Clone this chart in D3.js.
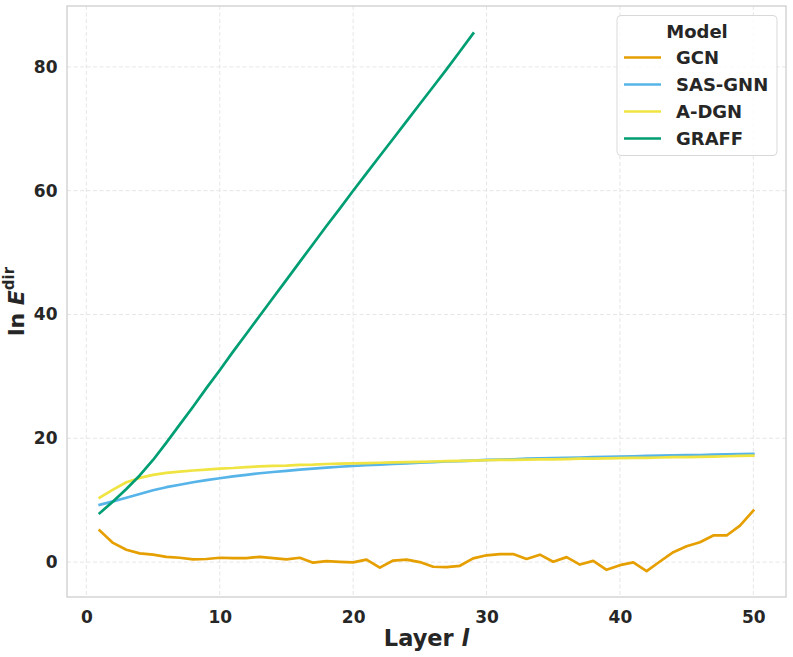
<!DOCTYPE html>
<html><head><meta charset="utf-8">
<script src="https://cdn.jsdelivr.net/npm/d3@7"></script>
<style>body{margin:0;background:#fff;} svg{display:block;font-family:"DejaVu Sans",sans-serif;}</style>
</head><body><svg id="c" width="793" height="657"></svg>
<script>
const layers = d3.range(1, 51);
const gcn = [5.1,3.1,2.0,1.4,1.2,0.85,0.7,0.45,0.5,0.7,0.65,0.65,0.85,0.65,0.45,0.7,-0.1,0.15,0.05,-0.05,0.4,-0.9,0.25,0.4,0.0,-0.75,-0.8,-0.6,0.6,1.1,1.3,1.3,0.5,1.2,0.05,0.8,-0.4,0.2,-1.25,-0.5,-0.05,-1.45,0.1,1.6,2.55,3.2,4.3,4.3,5.9,8.3];
const sasgnn = [9.25,9.8,10.4,11.0,11.6,12.1,12.5,12.9,13.25,13.55,13.85,14.1,14.35,14.55,14.75,14.95,15.1,15.25,15.4,15.55,15.65,15.75,15.85,15.95,16.05,16.15,16.25,16.3,16.4,16.5,16.55,16.6,16.7,16.75,16.8,16.85,16.9,16.95,17.0,17.05,17.1,17.15,17.2,17.25,17.3,17.3,17.35,17.4,17.45,17.5];
const adgn = [10.4,11.7,12.9,13.6,14.1,14.4,14.6,14.8,14.95,15.1,15.2,15.35,15.45,15.55,15.6,15.7,15.75,15.85,15.9,15.95,16.0,16.05,16.1,16.15,16.2,16.25,16.3,16.35,16.4,16.45,16.5,16.5,16.55,16.6,16.6,16.65,16.7,16.7,16.75,16.8,16.85,16.85,16.9,16.95,16.95,17.0,17.05,17.1,17.15,17.2];
const graff = [7.9,9.8,11.8,14.0,16.5,19.3,22.2,25.1,28.1,31.0,34.0,36.9,39.8,42.7,45.6,48.5,51.4,54.3,57.1,60.0,62.8,65.6,68.4,71.2,74.0,76.8,79.6,82.5,85.4];
const seriesNames = ["GCN","SAS-GNN","A-DGN","GRAFF"];
const seriesColors = ["#E69F00","#56B4E9","#F0E442","#009E73"];
const xTicks = [0,10,20,30,40,50];
const yTicks = [0,20,40,60,80];

const series = [gcn, sasgnn, adgn, graff].map((v,i)=>({name:seriesNames[i], color:seriesColors[i], pts:v.map((y,j)=>({x:layers[j], y}))}));

const svg = d3.select("#c");
const L=67, R=786, T=6, B=597;
const x = d3.scaleLinear().domain([-1.45, 52.45]).range([L, R]);
const y = d3.scaleLinear().domain([-5.64, 89.84]).range([B, T]);

// grid
svg.append("g").selectAll("line").data(xTicks).join("line")
  .attr("x1", d=>x(d)).attr("x2", d=>x(d)).attr("y1", T).attr("y2", B)
  .attr("stroke", "#e3e3e3").attr("stroke-width", 0.9).attr("stroke-dasharray", "4,2.5");
svg.append("g").selectAll("line").data(yTicks).join("line")
  .attr("y1", d=>y(d)).attr("y2", d=>y(d)).attr("x1", L).attr("x2", R)
  .attr("stroke", "#e3e3e3").attr("stroke-width", 0.9).attr("stroke-dasharray", "4,2.5");

// frame
svg.append("rect").attr("x", L).attr("y", T).attr("width", R-L).attr("height", B-T)
  .attr("fill", "none").attr("stroke", "#cccccc").attr("stroke-width", 1.25);

// axes
const xAxis = svg.append("g").attr("transform", `translate(0,${B})`)
  .call(d3.axisBottom(x).tickValues(xTicks).tickSize(0).tickPadding(14));
const yAxis = svg.append("g").attr("transform", `translate(${L},0)`)
  .call(d3.axisLeft(y).tickValues(yTicks).tickSize(0).tickPadding(9.5));
[xAxis, yAxis].forEach(a=>{
  a.select(".domain").remove();
  a.selectAll("text").attr("font-family","DejaVu Sans").attr("font-weight","bold").attr("font-size", 17).attr("fill", "#262626");
});

// lines
const line = d3.line().x(d=>x(d.x)).y(d=>y(d.y));
svg.append("g").selectAll("path").data(series).join("path")
  .attr("d", d=>line(d.pts)).attr("fill","none").attr("stroke", d=>d.color)
  .attr("stroke-width", 2.7).attr("stroke-linejoin","round").attr("stroke-linecap","square");

// axis labels
const xl = svg.append("text").attr("x", (L+R)/2).attr("y", 645.5).attr("text-anchor","middle")
  .attr("font-weight","bold").attr("font-size", 22.5).attr("fill","#262626");
xl.append("tspan").text("Layer ");
xl.append("tspan").attr("font-style","italic").text("l");

const yl = svg.append("text").attr("transform", `translate(23.5,${(T+B)/2}) rotate(-90)`)
  .attr("text-anchor","middle").attr("font-weight","bold").attr("font-size", 22).attr("fill","#262626");
yl.append("tspan").text("ln ");
yl.append("tspan").attr("font-style","italic").text("E");
yl.append("tspan").attr("font-size", 15).attr("dy", -10).text("dir");

// legend
const lg = svg.append("g");
lg.append("rect").attr("x", 617).attr("y", 15.5).attr("width", 160).attr("height", 140).attr("rx", 4)
  .attr("fill", "rgba(255,255,255,0.8)").attr("stroke", "#d9d9d9").attr("stroke-width", 1);
lg.append("text").attr("x", 697).attr("y", 38).attr("text-anchor","middle")
  .attr("font-weight","bold").attr("font-size", 18).attr("fill","#262626").text("Model");
const items = lg.selectAll("g.it").data(series).join("g").attr("class","it")
  .attr("transform", (d,i)=>`translate(0,${57.5 + i*27})`);
items.append("line").attr("x1", 624).attr("x2", 661).attr("stroke", d=>d.color).attr("stroke-width", 2.7);
items.append("text").attr("x", 676).attr("y", 6.5).attr("font-weight","bold").attr("font-size", 18)
  .attr("fill","#262626").text(d=>d.name);
</script></body></html>
